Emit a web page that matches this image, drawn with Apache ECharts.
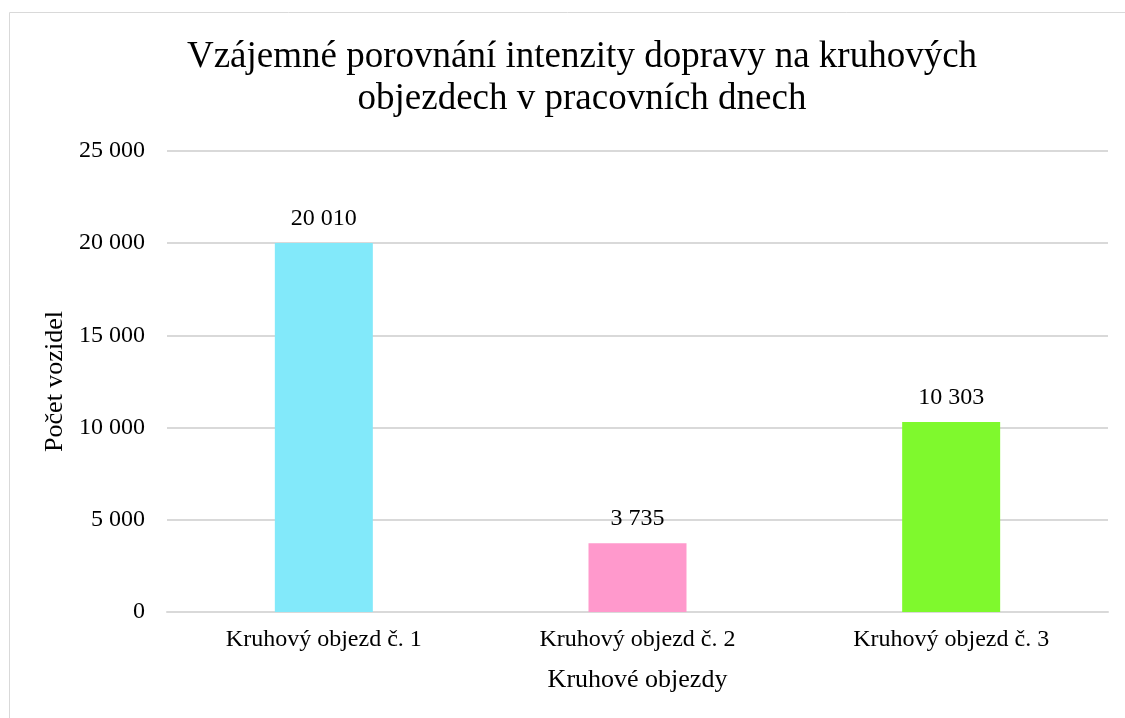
<!DOCTYPE html>
<html>
<head>
<meta charset="utf-8">
<script src="https://cdn.jsdelivr.net/npm/echarts@6/dist/echarts.min.js"></script>
<style>
  html, body { margin: 0; padding: 0; background: #fff; }
  #chart { width: 1125px; height: 718px; }
</style>
</head>
<body>
<div id="chart"></div>
<script>
const categories = ["Kruhový objezd č. 1", "Kruhový objezd č. 2", "Kruhový objezd č. 3"];
const values = [20010, 3735, 10303];
const barColors = ["#82E9FA", "#FF99CC", "#7FF92D"];

const serif = "'Liberation Serif', 'Times New Roman', serif";

// 20010 -> "20 010"
const fmt = (v) => String(v).replace(/\B(?=(\d{3})+(?!\d))/g, " ");

const chart = echarts.init(document.getElementById("chart"));
chart.setOption({
    animation: false,
    title: {
        text: "Vzájemné porovnání intenzity dopravy na kruhových\nobjezdech v pracovních dnech",
        left: 577,
        textAlign: "center",
        top: 31,
        textStyle: {
            fontFamily: serif,
            fontSize: 37,
            fontWeight: "normal",
            color: "#000",
            lineHeight: 42,
        },
    },
    graphic: [
        {
            type: "rect",
            shape: {x: 9.5, y: 12.5, width: 1130, height: 720},
            style: {fill: "none", stroke: "#d9d9d9", lineWidth: 1},
            silent: true,
        },
    ],
    grid: {left: 167, right: 17, top: 151, bottom: 106},
    xAxis: {
        type: "category",
        data: categories,
        name: "Kruhové objezdy",
        nameLocation: "middle",
        nameGap: 55,
        nameTextStyle: {fontFamily: serif, fontSize: 26, color: "#000"},
        axisLine: {lineStyle: {color: "#d9d9d9", width: 2}},
        axisTick: {show: false},
        axisLabel: {fontFamily: serif, fontSize: 24, color: "#000", margin: 16},
    },
    yAxis: {
        type: "value",
        min: 0,
        max: 25000,
        interval: 5000,
        name: "Počet vozidel",
        nameLocation: "middle",
        nameGap: 96,
        nameTextStyle: {fontFamily: serif, fontSize: 26, color: "#000"},
        axisLine: {show: false},
        axisTick: {show: false},
        splitLine: {lineStyle: {color: "#d9d9d9", width: 2}},
        axisLabel: {
            fontFamily: serif,
            fontSize: 24,
            color: "#000",
            margin: 22,
            formatter: fmt,
        },
    },
    series: [
        {
            type: "bar",
            barWidth: 98,
            data: values.map((v, i) => ({value: v, itemStyle: {color: barColors[i]}})),
            label: {
                show: true,
                position: "top",
                distance: 12,
                fontFamily: serif,
                fontSize: 24,
                color: "#000",
                formatter: (p) => fmt(p.value),
            },
        },
    ],
});
</script>
</body>
</html>
